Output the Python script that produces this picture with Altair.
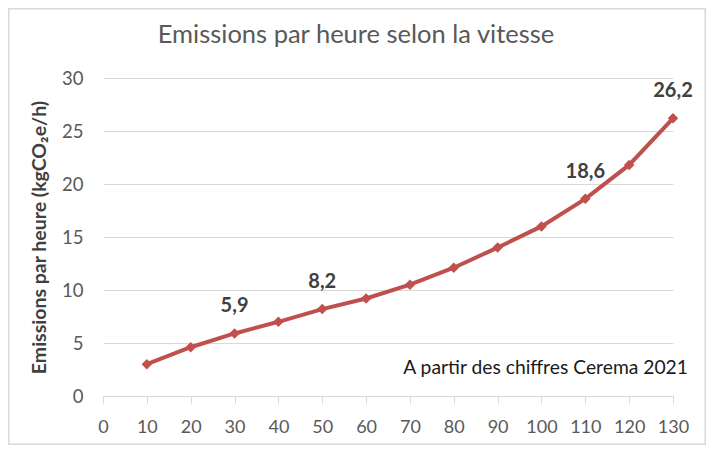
import altair as alt
import pandas as pd

vitesse = [10, 20, 30, 40, 50, 60, 70, 80, 90, 100, 110, 120, 130]
emissions = [3.0, 4.6, 5.9, 7.0, 8.2, 9.2, 10.5, 12.1, 14.0, 16.0, 18.6, 21.8, 26.2]
etiquettes = ["", "", "5,9", "", "8,2", "", "", "", "", "", "18,6", "", "26,2"]
titre = "Emissions par heure selon la vitesse"
source = "A partir des chiffres Cerema 2021"

df = pd.DataFrame({"vitesse": vitesse, "emissions": emissions, "label": etiquettes})

FONT = "Lato"
RED = "#C0504D"

x = alt.X("vitesse:Q", scale=alt.Scale(domain=[0, 130], nice=False),
          axis=alt.Axis(values=list(range(0, 131, 10)), title=None, grid=False,
                        domainColor="#d9d9d9", tickColor="#d9d9d9", tickSize=7,
                        labelFontSize=18, labelColor="#595959", labelFont=FONT,
                        labelPadding=24, labelOverlap=False, labelFlush=False,
                        labelBaseline="middle"))
y = alt.Y("emissions:Q", scale=alt.Scale(domain=[0, 30], nice=False),
          axis=alt.Axis(values=list(range(0, 31, 5)), title="Emissions par heure (kgCO₂e/h)",
                        titleFont=FONT, titleFontSize=19.5, titleFontWeight="bold",
                        titleColor="#404040", titlePadding=12,
                        domain=False, ticks=False, gridColor="#d9d9d9",
                        labelFontSize=18.5, labelColor="#595959", labelFont=FONT,
                        labelPadding=20))

base = alt.Chart(df)
line = base.mark_line(color=RED, strokeWidth=4).encode(x=x, y=y)
pts = base.mark_point(shape="diamond", filled=True, color=RED, size=110, opacity=1).encode(x=x, y=y)
labels = base.mark_text(font=FONT, fontSize=20, fontWeight="bold", color="#404040",
                        baseline="middle", dy=-27).encode(x=x, y=y, text="label:N")

note = alt.Chart(pd.DataFrame({"t": [source]})).mark_text(
    font=FONT, fontSize=19.3, color="#1a1a1a", align="right", baseline="middle"
).encode(x=alt.value(585), y=alt.value(290), text="t:N")

title = alt.Chart(pd.DataFrame({"t": [titre]})).mark_text(
    font=FONT, fontSize=25.5, color="#595959", align="center", baseline="middle"
).encode(x=alt.value(253), y=alt.value(-43), text="t:N")

frame = alt.Chart(pd.DataFrame({"a": [0]})).mark_rect(
    fill=None, stroke="#d9d9d9", strokeWidth=1.5, clip=False
).encode(x=alt.value(-94.2), x2=alt.value(602.2), y=alt.value(-69.2), y2=alt.value(366.2))

chart = alt.layer(frame, line, pts, labels, note, title).properties(
    width=570, height=318,
    autosize=alt.AutoSizeParams(type="none"),
    padding={"left": 95, "top": 70, "right": 33, "bottom": 49},
).configure_view(stroke=None)

chart.save("out.html", embed_options={"renderer": "svg", "actions": False})
